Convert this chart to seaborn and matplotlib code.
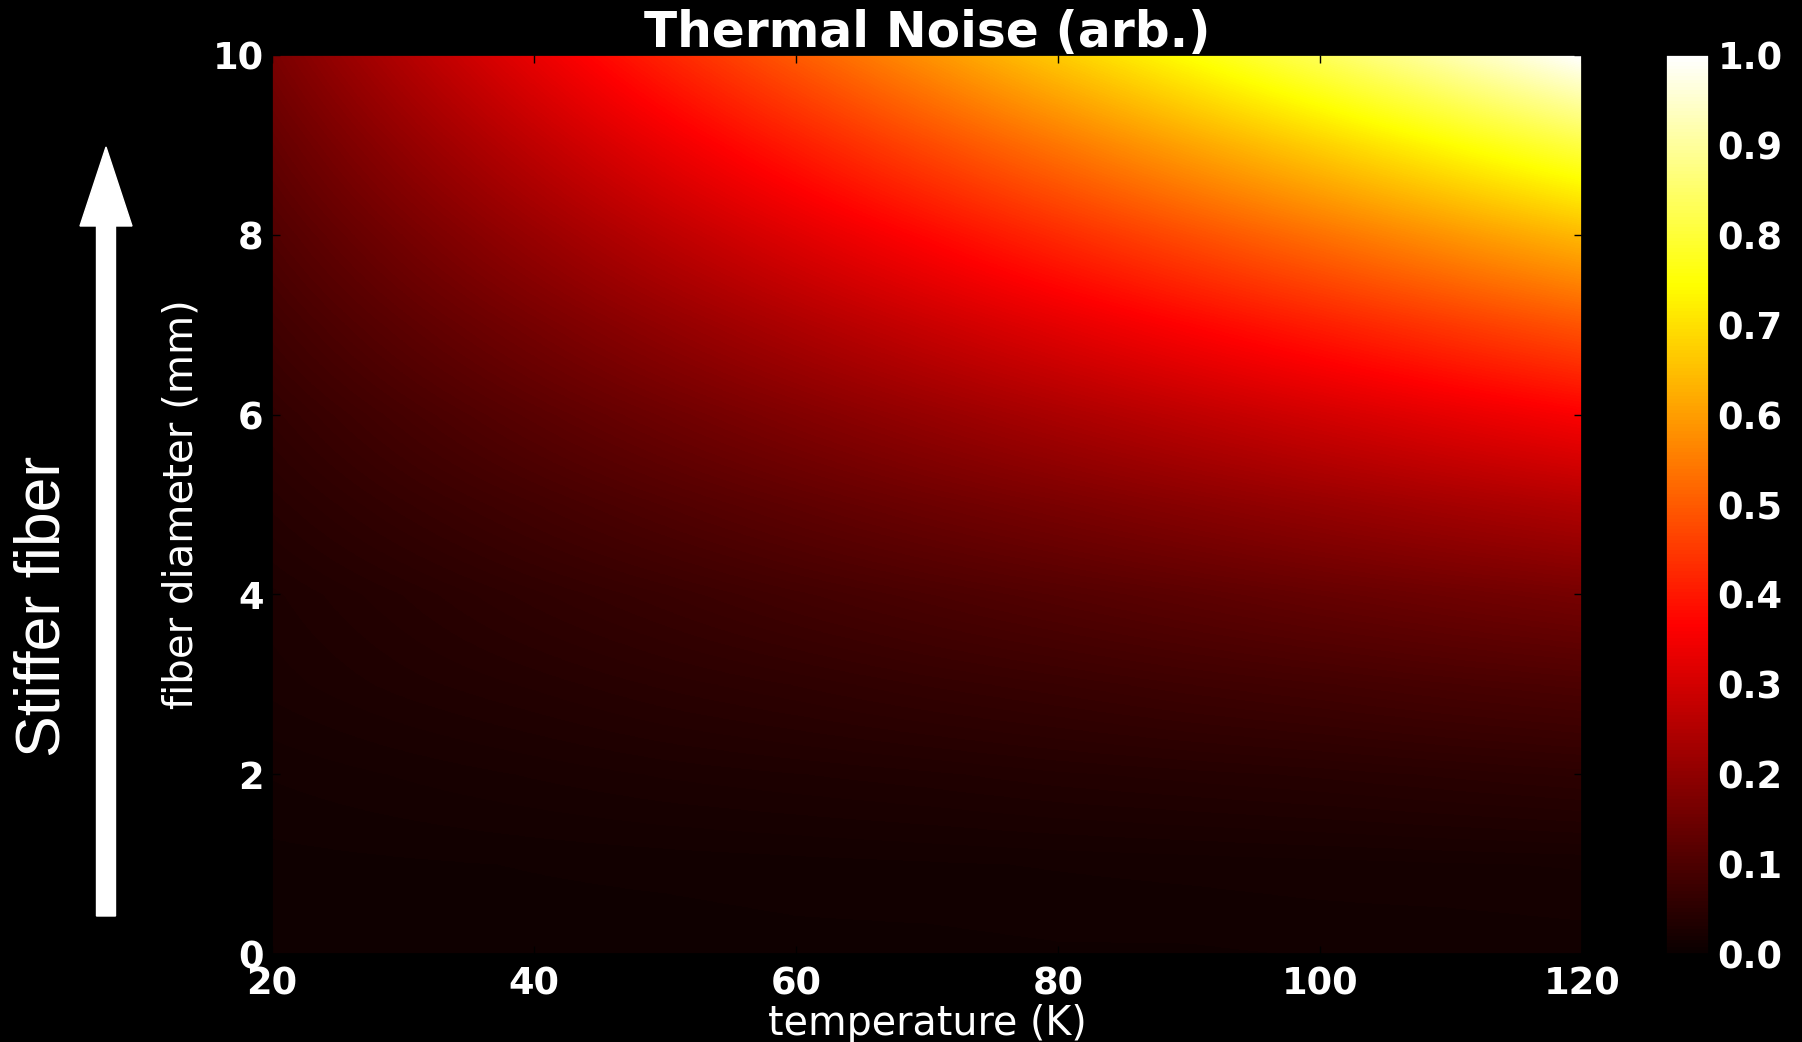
import numpy as np
import matplotlib
matplotlib.use("Agg")
import matplotlib.pyplot as plt
import seaborn as sns
from matplotlib.patches import FancyArrow

# ---- data (rows: fiber diameter 0..10 mm, cols: 20..120 K) ----
temperature_K = [20, 30, 40, 50, 60, 70, 80, 90, 100, 110, 120]
diameter_mm = [0, 1, 2, 3, 4, 5, 6, 7, 8, 9, 10]
noise_d0 = [0.008, 0.008, 0.009, 0.009, 0.010, 0.010, 0.011, 0.011, 0.012, 0.012, 0.013]
noise_d1 = [0.010, 0.011, 0.012, 0.013, 0.014, 0.015, 0.016, 0.017, 0.018, 0.019, 0.020]
noise_d2 = [0.016, 0.020, 0.024, 0.028, 0.031, 0.034, 0.038, 0.041, 0.044, 0.048, 0.052]
noise_d3 = [0.025, 0.033, 0.040, 0.048, 0.055, 0.063, 0.070, 0.078, 0.085, 0.093, 0.100]
noise_d4 = [0.030, 0.043, 0.057, 0.070, 0.084, 0.097, 0.110, 0.123, 0.137, 0.150, 0.163]
noise_d5 = [0.044, 0.065, 0.085, 0.106, 0.127, 0.148, 0.168, 0.189, 0.210, 0.231, 0.251]
noise_d6 = [0.060, 0.090, 0.120, 0.150, 0.180, 0.210, 0.240, 0.270, 0.300, 0.330, 0.360]
noise_d7 = [0.082, 0.123, 0.163, 0.204, 0.245, 0.286, 0.327, 0.368, 0.408, 0.449, 0.490]
noise_d8 = [0.107, 0.160, 0.213, 0.267, 0.320, 0.373, 0.427, 0.480, 0.533, 0.587, 0.640]
noise_d9 = [0.135, 0.203, 0.270, 0.338, 0.405, 0.473, 0.540, 0.608, 0.675, 0.743, 0.810]
noise_d10 = [0.167, 0.250, 0.333, 0.417, 0.500, 0.583, 0.667, 0.750, 0.833, 0.917, 1.000]

x_ticks = [20, 40, 60, 80, 100, 120]
y_ticks = [0, 2, 4, 6, 8, 10]
cbar_ticks = [0.0, 0.1, 0.2, 0.3, 0.4, 0.5, 0.6, 0.7, 0.8, 0.9, 1.0]

title_text = "Thermal Noise (arb.)"
xlabel_text = "temperature (K)"
ylabel_text = "fiber diameter (mm)"
side_text = "Stiffer fiber"

# ---- style ----
sns.set_theme(style="dark", rc={
    "figure.facecolor": "black",
    "axes.facecolor": "black",
    "savefig.facecolor": "black",
    "axes.edgecolor": "black",
    "text.color": "white",
    "axes.labelcolor": "white",
    "xtick.color": "black",
    "ytick.color": "black",
    "xtick.labelcolor": "white",
    "ytick.labelcolor": "white",
    "axes.grid": False,
})
plt.rcParams["font.family"] = ["DejaVu Sans"]

grid = np.array([noise_d0, noise_d1, noise_d2, noise_d3, noise_d4, noise_d5,
                 noise_d6, noise_d7, noise_d8, noise_d9, noise_d10])

W, H = 1802, 1042
fig = plt.figure(figsize=(W / 100, H / 100), dpi=100)
ax = fig.add_axes([272 / W, 1 - 954 / H, (1582 - 272) / W, (954 - 55) / H])
cax = fig.add_axes([1666 / W, 1 - 954 / H, 43 / W, (954 - 55) / H])

dT = temperature_K[1] - temperature_K[0]
dd = diameter_mm[1] - diameter_mm[0]
im = ax.imshow(grid, origin="lower", cmap="hot", vmin=0, vmax=1,
               interpolation="bilinear", aspect="auto",
               extent=[temperature_K[0] - dT / 2, temperature_K[-1] + dT / 2,
                       diameter_mm[0] - dd / 2, diameter_mm[-1] + dd / 2])
ax.set_xlim(temperature_K[0], temperature_K[-1])
ax.set_ylim(diameter_mm[0], diameter_mm[-1])
ax.set_xticks(x_ticks)
ax.set_yticks(y_ticks)
ax.tick_params(axis="both", which="major", direction="in", length=6, width=1,
               color="black", labelcolor="white", labelsize=26.5,
               top=True, right=True, bottom=True, left=True)
ax.tick_params(axis="x", pad=8)
ax.tick_params(axis="y", pad=6)
for lab in ax.get_xticklabels() + ax.get_yticklabels():
    lab.set_fontweight("bold")
for sp in ax.spines.values():
    sp.set_color("black")

ax.set_title(title_text, fontsize=35, fontweight="bold", color="white", pad=6)
ax.set_xlabel(xlabel_text, fontsize=28.5, color="white", labelpad=1)
ax.set_ylabel(ylabel_text, fontsize=29, color="white", labelpad=8)

cb = fig.colorbar(im, cax=cax, ticks=cbar_ticks, format="%.1f")
cb.outline.set_edgecolor("black")
cax.tick_params(direction="in", length=6, width=1, color="black",
                labelcolor="white", labelsize=26.5, pad=6)
for lab in cax.get_yticklabels():
    lab.set_fontweight("bold")

# side annotation: arrow + text
arrow = FancyArrow(1.06, (H - 916) / 100, 0, (916 - 147) / 100, width=0.19,
                   head_width=0.52, head_length=0.79, length_includes_head=True,
                   color="white", transform=fig.dpi_scale_trans)
fig.add_artist(arrow)
fig.text(43 / W, 1 - 606 / H, side_text, rotation=90, ha="center", va="center",
         fontsize=45, color="white", family=["Liberation Sans", "DejaVu Sans"])

fig.savefig("out.png", dpi=100, facecolor="black")
